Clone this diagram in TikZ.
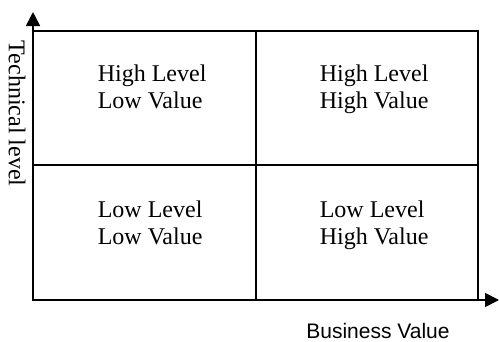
\documentclass[tikz,border=0pt]{standalone}
\usepackage{fontspec}
\setmainfont{Liberation Serif}
\setsansfont{Liberation Sans}
\usetikzlibrary{arrows.meta}

\begin{document}
\begin{tikzpicture}[
    x=1pt, y=-1pt,
    line width=1.6pt,
    every node/.style={inner sep=0pt},
    axis/.style={-{Triangle[length=14pt,width=14pt]}},
    quad/.style={font=\fontsize{24}{27}\selectfont, align=left, anchor=west},
    axislabel/.style={font=\fontsize{24}{27}\selectfont}
]
\useasboundingbox (0,0) rectangle (499,341);

% axes and grid corners
\coordinate (origin) at (33,300);
\coordinate (ytip) at (33,12);
\coordinate (xtip) at (499,300);
\coordinate (topright) at (478,31);
\coordinate (midtop) at (256,31);
\coordinate (midbot) at (256,300);
\coordinate (midleft) at (33,165);
\coordinate (midright) at (478,165);

\draw (origin) rectangle (topright);
\draw (midtop) -- (midbot);
\draw (midleft) -- (midright);
\draw[axis] (origin) -- (ytip);
\draw[axis] (origin) -- (xtip);

% quadrants
\node[quad] (hl) at (97,90) {\strut High Level\\\strut Low Value};
\node[quad] (hh) at (319,90) {\strut High Level\\\strut High Value};
\node[quad] (ll) at (97,226) {\strut Low Level\\\strut Low Value};
\node[quad] (lh) at (319,226) {\strut Low Level\\\strut High Value};

% axis labels
\node[axislabel, rotate=-90, anchor=base west] (tech) at (9,40) {Technical level};
\node[font=\sffamily\fontsize{21}{24}\selectfont, anchor=base] (biz) at (378,338) {Business Value};
\end{tikzpicture}
\end{document}
